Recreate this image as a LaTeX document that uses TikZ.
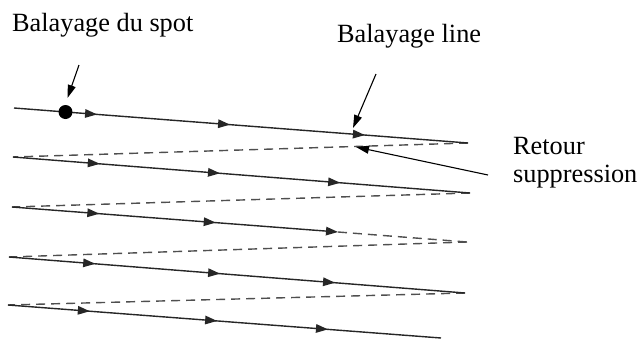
\documentclass[tikz,border=0pt]{standalone}
\usepackage{fontspec}
\setmainfont{Liberation Serif}
\usetikzlibrary{arrows.meta,decorations.markings}

\definecolor{scanline}{HTML}{262626}
\definecolor{retrace}{HTML}{4F4F4F}

\tikzset{
  flowtip/.tip={Triangle[length=12pt,width=8.5pt]},
  calltip/.tip={Triangle[length=13pt,width=8pt]},
  scan/.style={draw=scanline, line width=1.4pt},
  back/.style={draw=retrace, line width=1.4pt, dash pattern=on 9pt off 6pt},
  flow/.style n args={3}{postaction={decorate}, decoration={markings,
      mark=at position #1 with {\arrow{flowtip}},
      mark=at position #2 with {\arrow{flowtip}},
      mark=at position #3 with {\arrow{flowtip}}}},
  flowtwo/.style 2 args={postaction={decorate}, decoration={markings,
      mark=at position #1 with {\arrow{flowtip}},
      mark=at position #2 with {\arrow{flowtip}}}},
  callout/.style={draw=black, line width=1.1pt, -{calltip}},
  label/.style={font=\fontsize{26.3}{28}\selectfont, inner sep=0pt, anchor=base west, align=left},
}

\begin{document}
\begin{tikzpicture}[x=1pt, y=-1pt]
  \useasboundingbox (0,0) rectangle (641,338);

  % endpoints of the scan lines
  \coordinate (l1a) at (14,108);  \coordinate (l1b) at (468,143);
  \coordinate (l2a) at (13,157);  \coordinate (l2b) at (470,193);
  \coordinate (l3a) at (12,207);  \coordinate (l3m) at (338,232);
  \coordinate (l3b) at (467,242);
  \coordinate (l4a) at (9,257);   \coordinate (l4b) at (465,293);
  \coordinate (l5a) at (8,305);   \coordinate (l5b) at (441,338);

  % retrace (dashed) lines
  \draw[back] (l1b) -- (l2a);
  \draw[back] (l2b) -- (l3a);
  \draw[back] (l3m) -- (l3b);
  \draw[back] (l3b) -- (l4a);
  \draw[back] (l4b) -- (l5a);

  % active scan lines
  \draw[scan, flow={0.183}{0.476}{0.773}] (l1a) -- (l1b);
  \draw[scan, flow={0.190}{0.453}{0.716}] (l2a) -- (l2b);
  \draw[scan, flowtwo={0.268}{0.625}, -{flowtip}] (l3a) -- (l3m);
  \draw[scan, flow={0.189}{0.463}{0.715}] (l4a) -- (l4b);
  \draw[scan, flow={0.189}{0.483}{0.739}] (l5a) -- (l5b);

  % the spot
  \node[circle, fill=black, minimum size=14pt, inner sep=0pt] (spot) at (65.5,112) {};

  % labels
  \node[label] (tspot) at (12,31) {Balayage du spot};
  \node[label] (tline) at (337,42) {Balayage line};
  \node[label] (tret) at (513,182) {Retour\\suppression};

  % callout arrows
  \coordinate (c1) at (79,65);   \coordinate (c1t) at (67.5,98);
  \coordinate (c2) at (376,74);  \coordinate (c2t) at (353,128);
  \coordinate (c3) at (488,175); \coordinate (c3t) at (356,147);
  \draw[callout] (c1) -- (c1t);
  \draw[callout] (c2) -- (c2t);
  \draw[callout] (c3) -- (c3t);
\end{tikzpicture}
\end{document}
